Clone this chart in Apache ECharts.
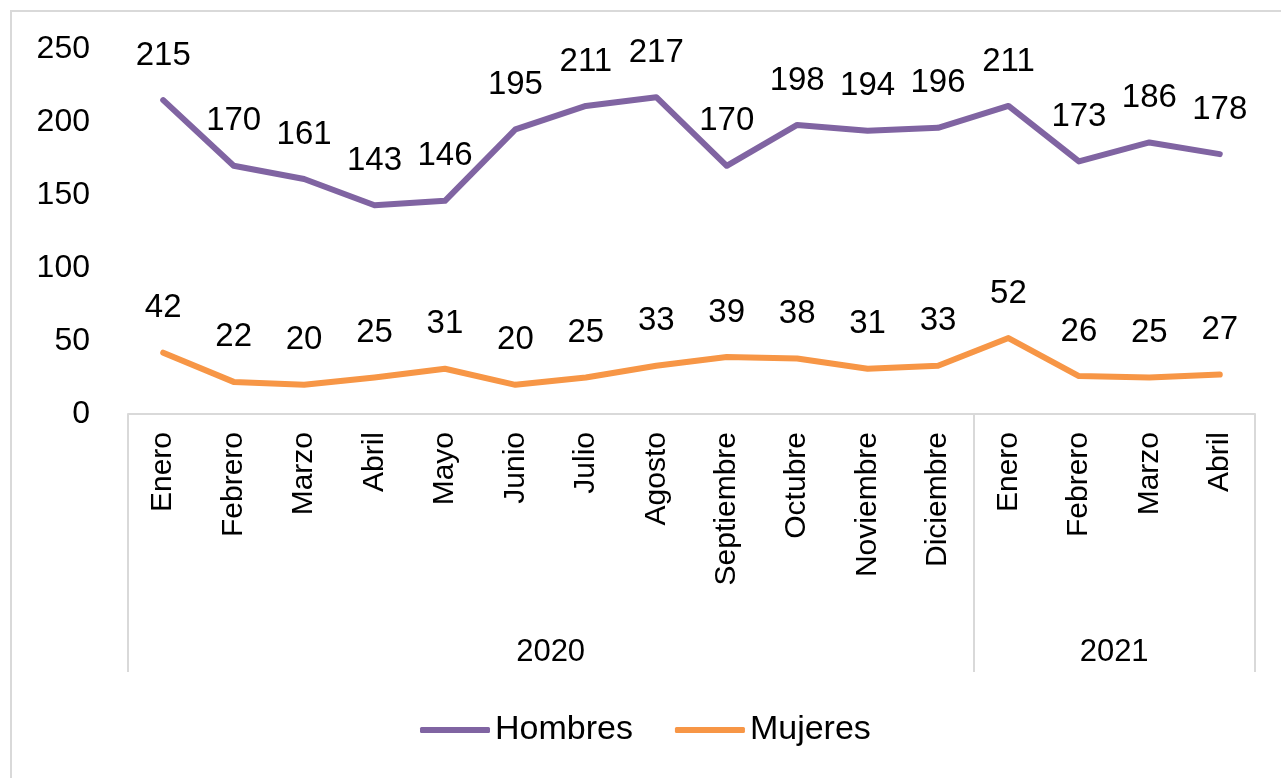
<!DOCTYPE html>
<html>
<head>
<meta charset="utf-8">
<script src="https://cdn.jsdelivr.net/npm/echarts@6/dist/echarts.min.js"></script>
<style>
	html, body { margin: 0; padding: 0; overflow: hidden; background: #fff; }
	#frame { position: absolute; left: 10px; top: 10px; width: 1400px; height: 900px; border: 2px solid #d9d9d9; }
	#chart { position: absolute; left: 0; top: 0; width: 1281px; height: 778px; }
</style>
</head>
<body>
<div id="frame"></div>
<div id="chart"></div>
<script>
var months = ['Enero','Febrero','Marzo','Abril','Mayo','Junio','Julio','Agosto','Septiembre','Octubre','Noviembre','Diciembre','Enero','Febrero','Marzo','Abril'];
var years = ['2020', '2021'];
var yearMonths = [12, 4];
var hombres = [215, 170, 161, 143, 146, 195, 211, 217, 170, 198, 194, 196, 211, 173, 186, 178];
var mujeres = [42, 22, 20, 25, 31, 20, 25, 33, 39, 38, 31, 33, 52, 26, 25, 27];
var yTicks = [0, 50, 100, 150, 200, 250];

var font = 'Liberation Sans';

// group boundaries and centres for the year row
var bounds = [0], centers = [];
for (var i = 0; i < yearMonths.length; i++) {
	var start = bounds[bounds.length - 1];
	bounds.push(start + yearMonths[i]);
	centers.push(start + yearMonths[i] / 2);
}

var chart = echarts.init(document.getElementById('chart'));

function lineSeries(name, data, color) {
	return {
		name: name,
		type: 'line',
		data: data,
		symbol: 'circle',
		symbolSize: 0,
		showSymbol: true,
		lineStyle: { width: 6, color: color, cap: 'round', join: 'round' },
		itemStyle: { color: color },
		label: {
			show: true,
			position: 'top',
			distance: 28,
			color: '#000',
			fontFamily: font,
			fontSize: 33
		}
	};
}

var option = {
	animation: false,
	grid: { left: 128, right: 26, top: 49, bottom: 364 },
	legend: {
		left: 415,
		top: 708,
		icon: 'roundRect',
		itemWidth: 70,
		itemHeight: 6,
		itemGap: 42,
		textStyle: { fontFamily: font, fontSize: 34, color: '#000' },
		data: ['Hombres', 'Mujeres']
	},
	xAxis: [
		{
			type: 'category',
			data: months,
			boundaryGap: true,
			axisLine: { show: true, lineStyle: { color: '#d9d9d9', width: 2 } },
			axisTick: { show: false },
			axisLabel: {
				rotate: 90,
				margin: 18,
				interval: 0,
				color: '#000',
				fontFamily: font,
				fontSize: 30
			}
		},
		{
			type: 'value',
			position: 'bottom',
			offset: 258,
			min: 0,
			max: bounds[bounds.length - 1],
			splitLine: { show: false },
			axisLine: { show: false },
			axisTick: {
				show: true,
				inside: true,
				length: 258,
				customValues: bounds,
				lineStyle: { color: '#d9d9d9', width: 2 }
			},
			axisLabel: {
				show: true,
				inside: true,
				margin: 4,
				customValues: centers,
				color: '#000',
				fontFamily: font,
				fontSize: 31,
				formatter: function (v) {
					var idx = centers.indexOf(v);
					return idx >= 0 ? years[idx] : '';
				}
			}
		}
	],
	yAxis: {
		type: 'value',
		min: yTicks[0],
		max: yTicks[yTicks.length - 1],
		interval: 50,
		splitLine: { show: false },
		axisLine: { show: false },
		axisTick: { show: false },
		axisLabel: {
			margin: 38,
			color: '#000',
			fontFamily: font,
			fontSize: 32
		}
	},
	series: [
		lineSeries('Hombres', hombres, '#8064a2'),
		lineSeries('Mujeres', mujeres, '#f79646')
	]
};

chart.setOption(option);
</script>
</body>
</html>
